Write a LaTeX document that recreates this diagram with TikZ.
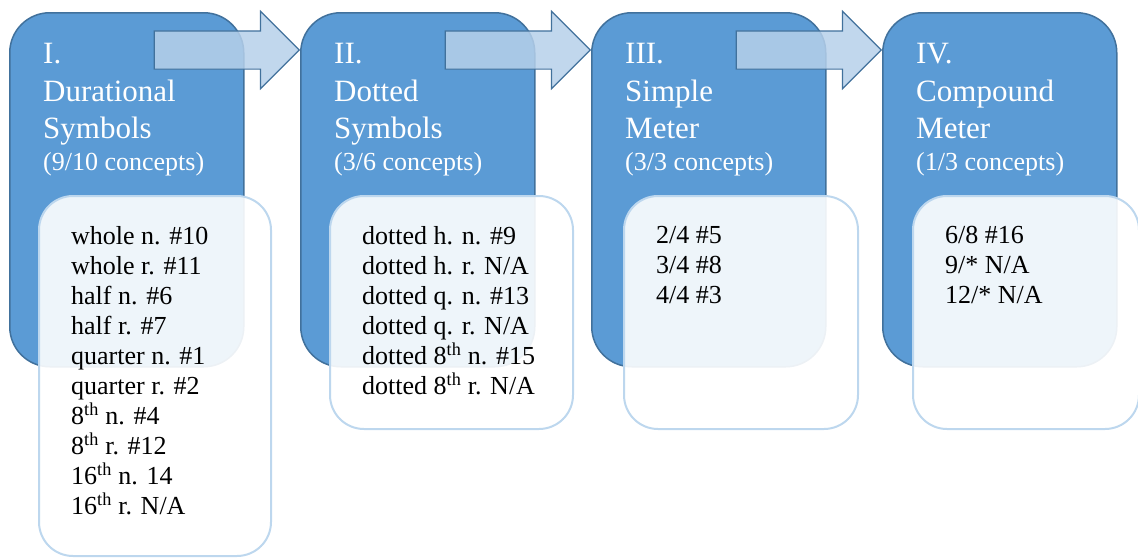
\documentclass[tikz,border=0pt]{standalone}
\usepackage{fontspec}
\setmainfont{Liberation Serif}
\usepackage{tikz}
\usetikzlibrary{
  positioning,
  shapes.arrows,
}
\definecolor{stageblue}{RGB}{91, 155, 213}
\definecolor{stageedge}{RGB}{65, 113, 156}
\definecolor{listedge}{RGB}{189, 215, 238}
\definecolor{arrowfill}{RGB}{182, 208, 234}
\tikzstyle{stagebox} = [
  rectangle,
  draw=stageedge,
  line width=1.5pt,
  fill=stageblue,
  rounded corners=40pt,
  minimum width=234pt,
  minimum height=354pt,
  inner sep=0pt,
]
\tikzstyle{listbox} = [
  rectangle,
  draw=listedge,
  line width=2pt,
  fill=white,
  fill opacity=0.9,
  rounded corners=34pt,
  minimum height=233pt,
  inner sep=0pt,
  anchor=north west,
]
\tikzstyle{bigarrow} = [
  single arrow,
  draw=stageedge,
  line width=1.2pt,
  fill=arrowfill,
  fill opacity=0.85,
  minimum height=145pt,
  inner xsep=0pt,
  inner ysep=18.5pt,
  single arrow head extend=19.5pt,
  anchor=tip,
]
\tikzstyle{stagetext} = [
  anchor=north west,
  inner sep=0pt,
  align=left,
  text=white,
  font=\fontsize{31}{37.5}\selectfont,
]
\tikzstyle{listtext} = [
  anchor=north west,
  inner sep=0pt,
  align=left,
  text=black,
  font=\fontsize{26}{30}\selectfont,
]
\newcommand{\concepts}[1]{{\fontsize{26}{29}\selectfont (#1 concepts)}}

\begin{document}
\begin{tikzpicture}[node distance=0mm and 55.5pt]
    \useasboundingbox (0,0) rectangle (1138pt,-557pt);

    % stages
    \node[stagebox, anchor=north west] (a0) at (9pt,-12pt) {};
    \node[stagebox] (a1) [right=of a0] {};
    \node[stagebox] (a2) [right=of a1] {};
    \node[stagebox] (a3) [right=of a2] {};

    \node[stagetext] (t0) at ([xshift=34pt,yshift=-31pt]a0.north west) {I.\\Durational\\Symbols\\[-5.5pt]\concepts{9/10}};
    \node[stagetext] (t1) at ([xshift=34pt,yshift=-31pt]a1.north west) {II.\\Dotted\\Symbols\\[-5.5pt]\concepts{3/6}};
    \node[stagetext] (t2) at ([xshift=34pt,yshift=-31pt]a2.north west) {III.\\Simple\\Meter\\[-5.5pt]\concepts{3/3}};
    \node[stagetext] (t3) at ([xshift=34pt,yshift=-31pt]a3.north west) {IV.\\Compound\\Meter\\[-5.5pt]\concepts{1/3}};

    \node[bigarrow] (r0) at ([yshift=-38pt]a1.north west) {};
    \node[bigarrow] (r1) at ([yshift=-38pt]a2.north west) {};
    \node[bigarrow] (r2) at ([yshift=-38pt]a3.north west) {};

    % concept lists
    \node[listbox, minimum width=232pt, minimum height=360pt] (b0) at ([xshift=29pt,yshift=-183pt]a0.north west) {};
    \node[listbox, minimum width=243pt] (b1) at ([xshift=29pt,yshift=-183pt]a1.north west) {};
    \node[listbox, minimum width=234pt] (b2) at ([xshift=32pt,yshift=-183pt]a2.north west) {};
    \node[listbox, minimum width=226pt] (b3) at ([xshift=30pt,yshift=-183pt]a3.north west) {};

    \node[listtext] (l0) at ([xshift=33pt,yshift=-31pt]b0.north west) {whole n. \#10\\whole r. \#11\\half n. \#6\\half r. \#7\\quarter n. \#1\\quarter r. \#2\\8\textsuperscript{th} n. \#4\\8\textsuperscript{th} r. \#12\\16\textsuperscript{th} n. 14\\16\textsuperscript{th} r. N/A};
    \node[listtext] (l1) at ([xshift=33pt,yshift=-31pt]b1.north west) {dotted h. n. \#9\\dotted h. r. N/A\\dotted q. n. \#13\\dotted q. r. N/A\\dotted 8\textsuperscript{th} n. \#15\\dotted 8\textsuperscript{th} r. N/A};
    \node[listtext] (l2) at ([xshift=33pt,yshift=-31pt]b2.north west) {2/4 \#5\\3/4 \#8\\4/4 \#3};
    \node[listtext] (l3) at ([xshift=33pt,yshift=-31pt]b3.north west) {6/8 \#16\\9/* N/A\\12/* N/A};
\end{tikzpicture}
\end{document}
